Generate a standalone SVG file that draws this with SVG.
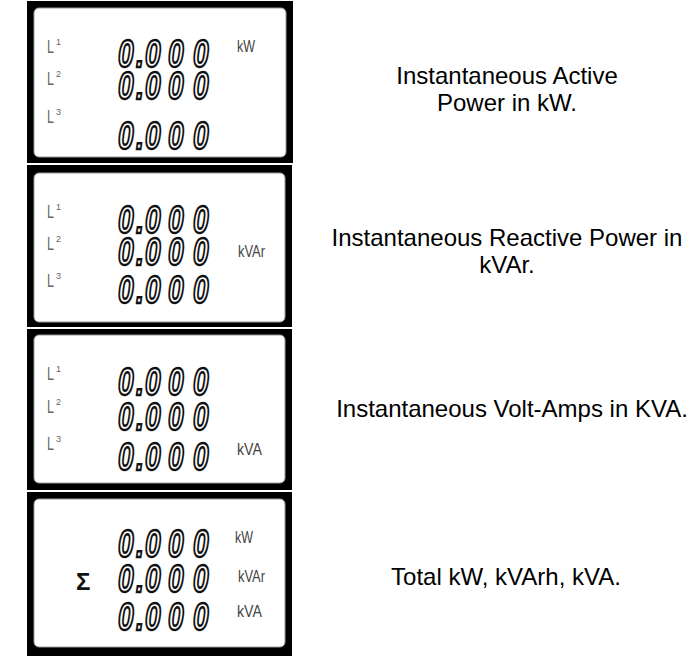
<svg xmlns="http://www.w3.org/2000/svg" width="699" height="663" viewBox="0 0 699 663">
<style>
.frame{fill:#000}
.screen{fill:#fff;stroke:#9a9a9a;stroke-width:1}
.d{font-family:"Liberation Sans",Arial,sans-serif;font-weight:bold;font-style:italic;font-size:39px;fill:#fff;stroke:#111;stroke-width:2.4}
.u{font-family:"Liberation Sans Narrow","Liberation Sans",Arial,sans-serif;font-size:16px;fill:#444}
.l{font-family:"Liberation Sans Narrow","Liberation Sans",Arial,sans-serif;font-size:18px;fill:#666}
.s{font-family:"Liberation Sans",Arial,sans-serif;font-size:9px;fill:#666}
.sig{font-family:"Liberation Sans",Arial,sans-serif;font-size:24px;font-weight:bold;fill:#111}
.cap{font-family:"Liberation Sans",Arial,sans-serif;font-size:24px;fill:#000;text-anchor:middle}
</style>
<defs>
<g id="row"><text class="d" transform="scale(0.72,1)" x="0 25 37.5 69.4 104.2">0.000</text></g>
</defs>
<g id="panel1">
<rect class="frame" x="27" y="1" width="266" height="162"/>
<rect class="screen" x="34" y="8" width="252" height="149" rx="5"/>
<text class="l" x="47" y="53" textLength="7" lengthAdjust="spacingAndGlyphs">L</text><text class="s" x="56" y="45">1</text>
<text class="l" x="47" y="85" textLength="7" lengthAdjust="spacingAndGlyphs">L</text><text class="s" x="56" y="77">2</text>
<text class="l" x="47" y="123" textLength="7" lengthAdjust="spacingAndGlyphs">L</text><text class="s" x="56" y="115">3</text>
<use href="#row" x="118" y="67"/>
<use href="#row" x="118" y="99"/>
<use href="#row" x="118" y="149"/>
<text class="u" x="237" y="52" textLength="18" lengthAdjust="spacingAndGlyphs">kW</text>
</g>
<g id="panel2">
<rect class="frame" x="27" y="165" width="265" height="162"/>
<rect class="screen" x="34" y="173" width="251" height="149" rx="5"/>
<text class="l" x="47" y="218" textLength="7" lengthAdjust="spacingAndGlyphs">L</text><text class="s" x="56" y="210">1</text>
<text class="l" x="47" y="250" textLength="7" lengthAdjust="spacingAndGlyphs">L</text><text class="s" x="56" y="242">2</text>
<text class="l" x="47" y="287" textLength="7" lengthAdjust="spacingAndGlyphs">L</text><text class="s" x="56" y="279">3</text>
<use href="#row" x="118" y="233"/>
<use href="#row" x="118" y="265"/>
<use href="#row" x="118" y="303"/>
<text class="u" x="238" y="257" textLength="27" lengthAdjust="spacingAndGlyphs">kVAr</text>
</g>
<g id="panel3">
<rect class="frame" x="27" y="329" width="265" height="161"/>
<rect class="screen" x="34" y="335" width="251" height="148" rx="5"/>
<text class="l" x="47" y="380" textLength="7" lengthAdjust="spacingAndGlyphs">L</text><text class="s" x="56" y="372">1</text>
<text class="l" x="47" y="413" textLength="7" lengthAdjust="spacingAndGlyphs">L</text><text class="s" x="56" y="405">2</text>
<text class="l" x="47" y="450" textLength="7" lengthAdjust="spacingAndGlyphs">L</text><text class="s" x="56" y="442">3</text>
<use href="#row" x="118" y="395"/>
<use href="#row" x="118" y="430"/>
<use href="#row" x="118" y="470"/>
<text class="u" x="237" y="455" textLength="25" lengthAdjust="spacingAndGlyphs">kVA</text>
</g>
<g id="panel4">
<rect class="frame" x="27" y="492" width="265" height="164"/>
<rect class="screen" x="34" y="499" width="251" height="148" rx="5"/>
<text class="sig" x="76" y="590">Σ</text>
<use href="#row" x="118" y="557"/>
<use href="#row" x="118" y="592"/>
<use href="#row" x="118" y="630"/>
<text class="u" x="235" y="543" textLength="18" lengthAdjust="spacingAndGlyphs">kW</text>
<text class="u" x="238" y="582" textLength="27" lengthAdjust="spacingAndGlyphs">kVAr</text>
<text class="u" x="237" y="617" textLength="25" lengthAdjust="spacingAndGlyphs">kVA</text>
</g>
<g id="captions">
<text class="cap" x="507" y="84">Instantaneous Active</text>
<text class="cap" x="507" y="111">Power in kW.</text>
<text class="cap" x="507" y="246">Instantaneous Reactive Power in</text>
<text class="cap" x="507" y="273">kVAr.</text>
<text class="cap" x="512" y="417">Instantaneous Volt-Amps in KVA.</text>
<text class="cap" x="506" y="585">Total kW, kVArh, kVA.</text>
</g>
</svg>
